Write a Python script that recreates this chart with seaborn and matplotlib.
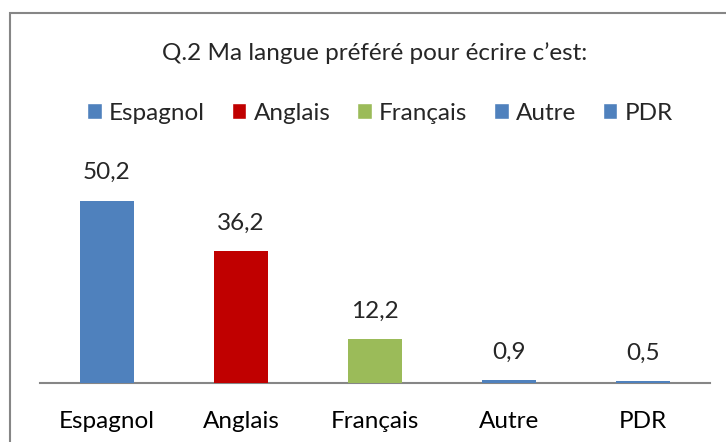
import matplotlib
matplotlib.use("Agg")
import matplotlib.pyplot as plt
import seaborn as sns
import pandas as pd
from matplotlib.patches import Rectangle

# data
categories = ["Espagnol", "Anglais", "Français", "Autre", "PDR"]
values = [50.2, 36.2, 12.2, 0.9, 0.5]
colors = ["#4F81BD", "#C00000", "#9BBB59", "#4F81BD", "#4F81BD"]
title = "Q.2 Ma langue préféré pour écrire c’est:"

df = pd.DataFrame({"langue": categories, "pct": values})

sns.set_style("white")
plt.rcParams["font.family"] = ["Lato", "DejaVu Sans"]
fs = 17.5

fig = plt.figure(figsize=(7.26, 4.42), dpi=100)
ax = fig.add_axes([40 / 726, 0.1335, 670 / 726, 0.4932])

sns.barplot(data=df, x="langue", y="pct", hue="langue", palette=colors,
            width=0.4, saturation=1, legend=True, ax=ax)
for p in ax.patches:
    p.set_zorder(3)
    p.set_linewidth(0)

ax.set_ylim(0, 60)
ax.set_xlim(-0.5, len(categories) - 0.5)
ax.set_xlabel("")
ax.set_ylabel("")
ax.set_yticks([])
sns.despine(ax=ax, left=True, top=True, right=True)
ax.spines["bottom"].set_color("#868686")
ax.spines["bottom"].set_linewidth(1.5)
ax.spines["bottom"].set_zorder(1)
ax.tick_params(axis="x", length=0, pad=20, labelsize=fs, colors="black")

# value labels with comma decimals
for i, v in enumerate(values):
    ax.annotate(f"{v:.1f}".replace(".", ","), (i, v), xytext=(0, 20),
                textcoords="offset points", ha="center", va="center",
                fontsize=fs)

sns.move_legend(ax, "center", bbox_to_anchor=(380 / 726, 1 - 113 / 442),
                bbox_transform=fig.transFigure, ncol=5, frameon=False,
                title=None, fontsize=fs, handlelength=0.6, handleheight=0.6,
                handletextpad=0.3, columnspacing=1.1)

fig.text(375 / 726, 1 - 53 / 442, title, ha="center", va="center", fontsize=fs)

# chart frame (cropped on the right and bottom)
fig.patches.append(Rectangle((10 / 726, -0.1), 1.2, (442 - 13) / 442 + 0.1,
                             transform=fig.transFigure, fill=False,
                             edgecolor="#868686", linewidth=1.5))

fig.savefig("out.png", dpi=100)
